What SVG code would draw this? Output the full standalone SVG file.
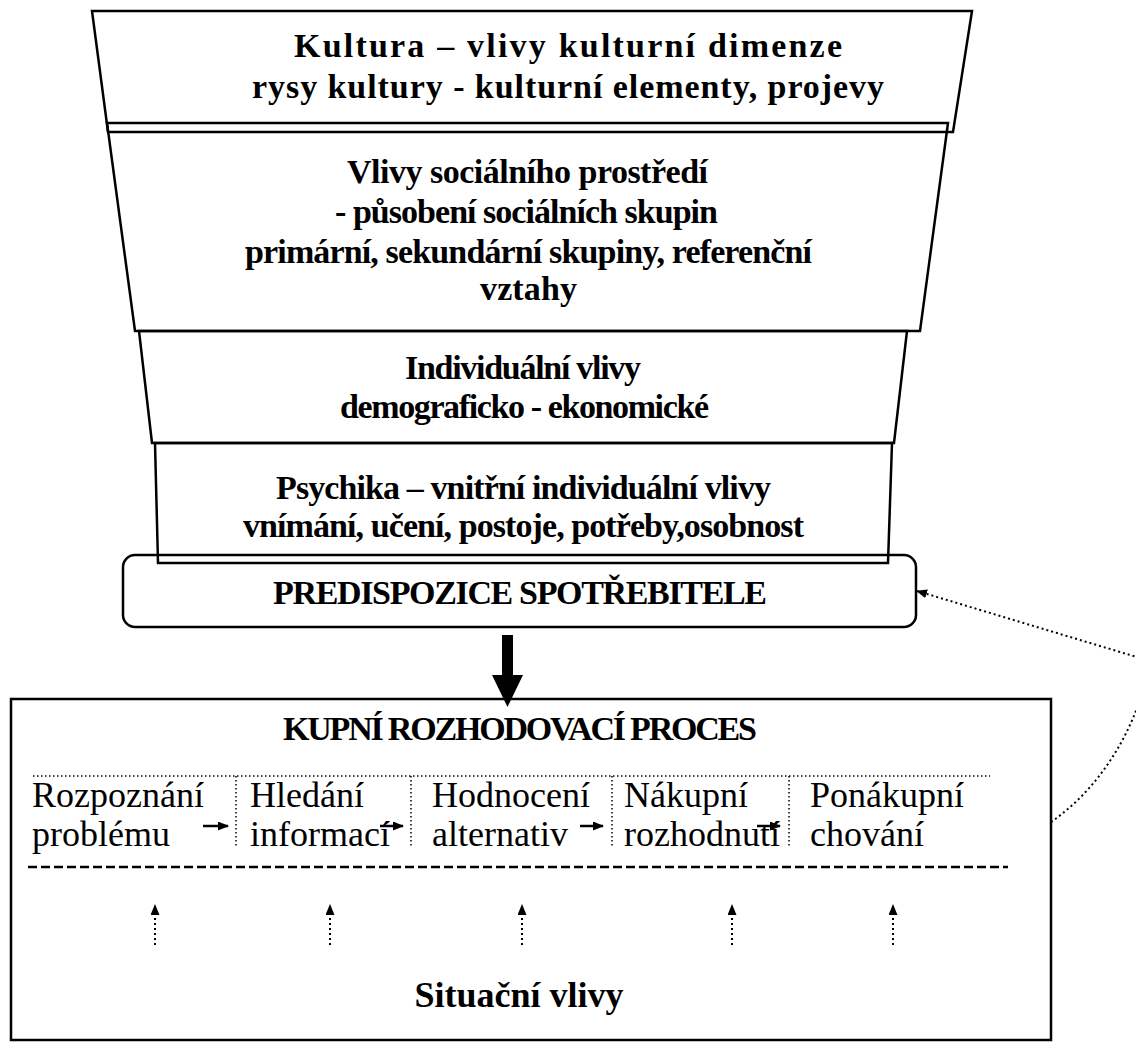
<svg xmlns="http://www.w3.org/2000/svg" width="1136" height="1060" viewBox="0 0 1136 1060">
<style>
.shape{fill:none;stroke:#000;stroke-width:2.5}
.b{font-family:"Liberation Serif","Times New Roman",serif;font-weight:bold;font-size:34px;fill:#000}
.r{font-family:"Liberation Serif","Times New Roman",serif;font-size:36px;fill:#000}
.dot{fill:none;stroke:#000;stroke-width:2;stroke-dasharray:2 3}
.sep{stroke:#000;stroke-width:1.5;stroke-dasharray:1.5 2.5}
.solid{stroke:#000;stroke-width:2.5}
</style>
<defs>
<marker id="ah" markerUnits="userSpaceOnUse" markerWidth="12" markerHeight="10" refX="10" refY="4.5" orient="auto">
<path d="M0,0 L11,4.5 L0,9 z" fill="#000"/>
</marker>
</defs>
<rect width="1136" height="1060" fill="#fff"/>

<g id="kultura">
<polygon class="shape" points="92,11 972,11 953,132 108,132"/>
<text class="b" x="294" y="57" textLength="548">Kultura – vlivy kulturní dimenze</text>
<text class="b" x="252" y="98" textLength="632">rysy kultury - kulturní elementy, projevy</text>
</g>

<g id="socialni">
<polygon class="shape" points="107,123 948,123 920,331 135,331"/>
<text class="b" x="347" y="183" textLength="361">Vlivy sociálního prostředí</text>
<text class="b" x="335" y="223" textLength="383">- působení sociálních skupin</text>
<text class="b" x="245" y="263" textLength="567">primární, sekundární skupiny, referenční</text>
<text class="b" x="480" y="300" textLength="97">vztahy</text>
</g>

<g id="individualni">
<polygon class="shape" points="139,331 907,331 894,443 152,443"/>
<text class="b" x="405" y="379" textLength="236">Individuální vlivy</text>
<text class="b" x="340" y="418" textLength="369">demograficko - ekonomické</text>
</g>

<g id="psychika">
<polygon class="shape" points="155,443 892,443 888,563 158,563"/>
<text class="b" x="276" y="499" textLength="495">Psychika – vnitřní individuální vlivy</text>
<text class="b" x="243" y="537" textLength="561">vnímání, učení, postoje, potřeby,osobnost</text>
</g>

<g id="predispozice">
<rect class="shape" x="123" y="555" width="793" height="72" rx="12"/>
<text class="b" x="273" y="604" textLength="494">PREDISPOZICE SPOTŘEBITELE</text>
</g>

<g id="proces">
<rect class="shape" x="11" y="699" width="1040" height="341"/>
<text class="b" x="283" y="740" textLength="474">KUPNÍ ROZHODOVACÍ PROCES</text>
<line class="sep" x1="33" y1="776" x2="990" y2="776"/>
<line class="sep" x1="236" y1="776" x2="236" y2="848"/>
<line class="sep" x1="411" y1="776" x2="411" y2="848"/>
<line class="sep" x1="612" y1="776" x2="612" y2="848"/>
<line class="sep" x1="789" y1="776" x2="789" y2="848"/>
<text class="r" x="32" y="807">Rozpoznání</text>
<text class="r" x="32" y="846">problému</text>
<text class="r" x="250" y="807">Hledání</text>
<text class="r" x="250" y="846">informací</text>
<text class="r" x="432" y="807">Hodnocení</text>
<text class="r" x="432" y="846">alternativ</text>
<text class="r" x="624" y="807">Nákupní</text>
<text class="r" x="624" y="846">rozhodnutí</text>
<text class="r" x="810" y="807">Ponákupní</text>
<text class="r" x="810" y="846">chování</text>
<line x1="28" y1="867" x2="1008" y2="867" stroke="#000" stroke-width="2.5" stroke-dasharray="9 4"/>
<text class="b" x="519" y="1007" text-anchor="middle" style="font-size:36px">Situační vlivy</text>
</g>

<g id="connectors">
<polygon points="502,635 513,635 513,675 523,675 507.5,707 492,675 502,675" fill="#000"/>
<line class="solid" x1="203" y1="826" x2="228" y2="826" marker-end="url(#ah)"/>
<line class="solid" x1="380" y1="826" x2="403" y2="826" marker-end="url(#ah)"/>
<line class="solid" x1="580" y1="826" x2="603" y2="826" marker-end="url(#ah)"/>
<line class="solid" x1="757" y1="826" x2="780" y2="826" marker-end="url(#ah)"/>
<line class="dot" x1="155" y1="945" x2="155" y2="905" marker-end="url(#ah)"/>
<line class="dot" x1="330" y1="945" x2="330" y2="905" marker-end="url(#ah)"/>
<line class="dot" x1="522" y1="945" x2="522" y2="905" marker-end="url(#ah)"/>
<line class="dot" x1="732" y1="945" x2="732" y2="905" marker-end="url(#ah)"/>
<line class="dot" x1="893" y1="945" x2="893" y2="905" marker-end="url(#ah)"/>
<path class="dot" d="M1051,822 C1105,785 1140,720 1150,661 L917,591" marker-end="url(#ah)"/>
</g>
</svg>
